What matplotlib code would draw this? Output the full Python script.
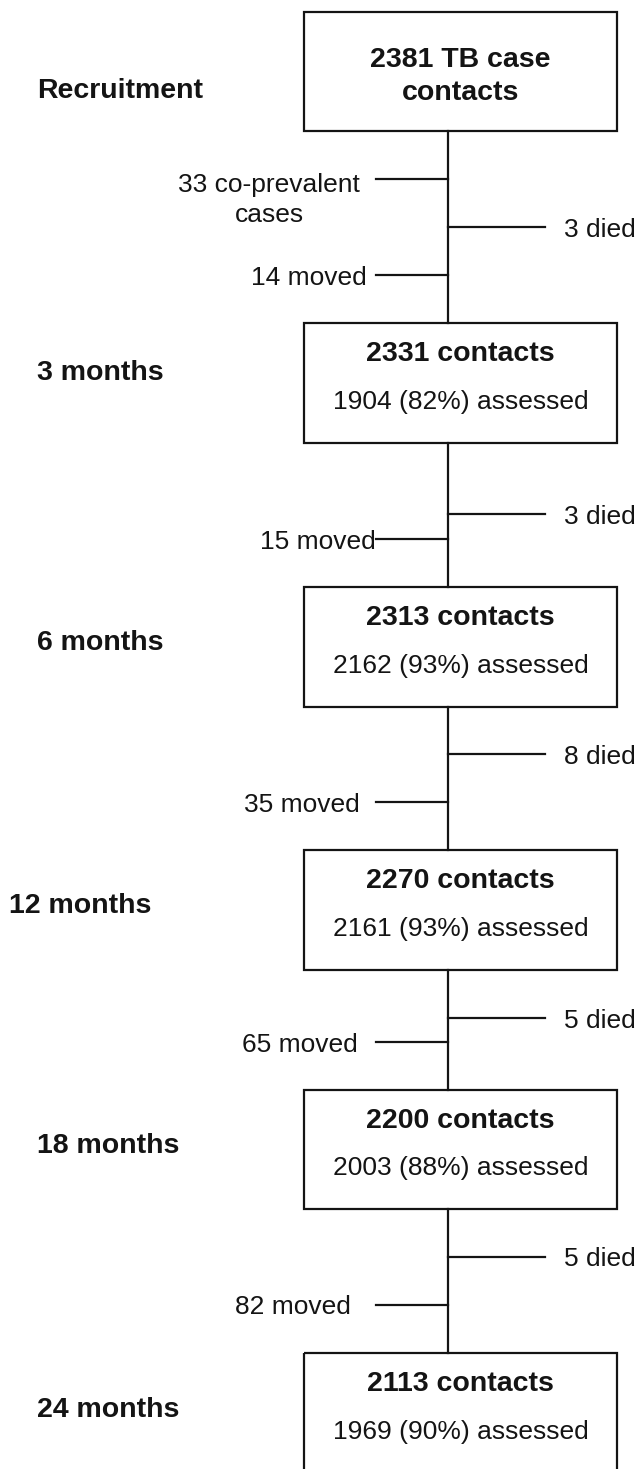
import matplotlib
matplotlib.use("Agg")
import matplotlib.pyplot as plt
from matplotlib.patches import Rectangle

plt.rcParams['font.family'] = ['Liberation Sans', 'DejaVu Sans']

# Data
stages = ["Recruitment", "3 months", "6 months", "12 months", "18 months", "24 months"]
contacts = [2381, 2331, 2313, 2270, 2200, 2113]
assessed = [None, 1904, 2162, 2161, 2003, 1969]
assessed_pct = [None, 82, 93, 93, 88, 90]
died = [3, 3, 8, 5, 5]
moved = [14, 15, 35, 65, 82]
coprevalent = 33

# Layout (pixels, y downwards)
box_left, box_right = 304, 617
box_top = [12, 323, 587, 850, 1090, 1353]
box_h = [119, 120, 120, 120, 119, 120]
trunk_x = 448
died_y = [227, 514, 754, 1018, 1257]
moved_y = [275, 539, 802, 1042, 1305]
moved_txt_right = [367, 376, 360, 358, 351]
label_x = [37, 37, 37, 9, 37, 37]
label_y = [88, 370, 640, 903, 1143, 1407]

ink = '#141414'
lw = 1.6
fs_bold = 20.5
fs_reg = 19
va = 'center_baseline'

fig = plt.figure(figsize=(6.38, 14.69), dpi=100)
ax = fig.add_axes([0, 0, 1, 1])
ax.set_xlim(0, 638)
ax.set_ylim(1469, 0)
ax.axis('off')

cx = (box_left + box_right) / 2

# boxes
for i, top in enumerate(box_top):
    ax.add_patch(Rectangle((box_left, top), box_right - box_left, box_h[i],
                           fill=False, ec=ink, lw=lw))
    if i == 0:
        ax.text(cx, top + 45, f"{contacts[i]} TB case", ha='center', va=va,
                fontsize=fs_bold, fontweight='bold', color=ink)
        ax.text(cx, top + 78, "contacts", ha='center', va=va,
                fontsize=fs_bold, fontweight='bold', color=ink)
    else:
        ax.text(cx, top + 28, f"{contacts[i]} contacts", ha='center', va=va,
                fontsize=fs_bold, fontweight='bold', color=ink)
        ax.text(cx, top + 76, f"{assessed[i]} ({assessed_pct[i]}%) assessed",
                ha='center', va=va, fontsize=fs_reg, color=ink)

# stage labels
for i, s in enumerate(stages):
    ax.text(label_x[i], label_y[i], s, ha='left', va=va,
            fontsize=fs_bold, fontweight='bold', color=ink)

# trunk lines and branches
for i in range(len(died)):
    y0 = box_top[i] + box_h[i]
    y1 = box_top[i + 1]
    ax.plot([trunk_x, trunk_x], [y0, y1], color=ink, lw=lw)
    ax.plot([trunk_x, 545], [died_y[i], died_y[i]], color=ink, lw=lw)
    ax.text(564, died_y[i], f"{died[i]} died", ha='left', va=va,
            fontsize=fs_reg, color=ink)
    ax.plot([376, trunk_x], [moved_y[i], moved_y[i]], color=ink, lw=lw)
    ax.text(moved_txt_right[i], moved_y[i], f"{moved[i]} moved", ha='right',
            va=va, fontsize=fs_reg, color=ink)

# co-prevalent cases branch
ax.plot([376, trunk_x], [179, 179], color=ink, lw=lw)
ax.text(269, 182, f"{coprevalent} co-prevalent", ha='center', va=va,
        fontsize=fs_reg, color=ink)
ax.text(269, 212, "cases", ha='center', va=va, fontsize=fs_reg, color=ink)

fig.savefig("out.png", dpi=100, facecolor='white')
